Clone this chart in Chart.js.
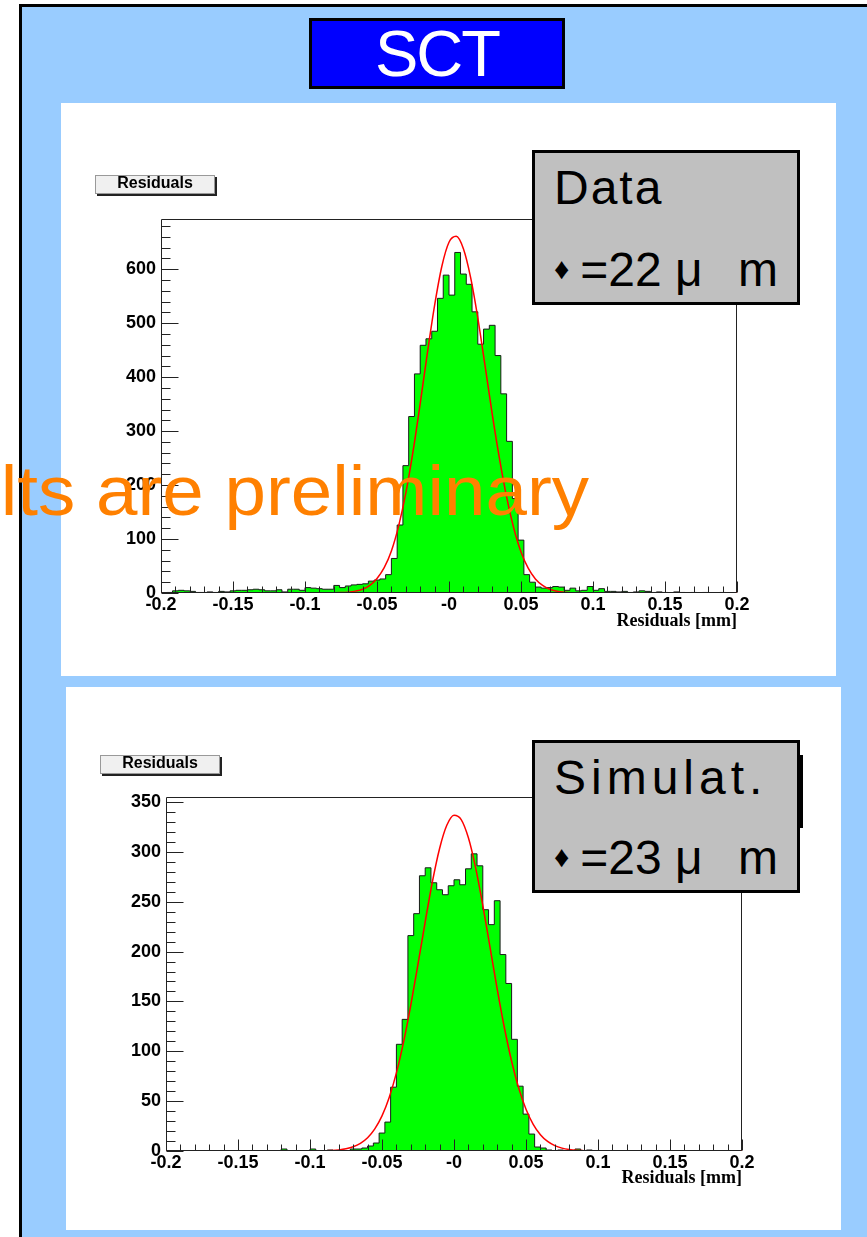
<!DOCTYPE html>
<html lang="en">
<head>
<meta charset="UTF-8">
<title>SCT residuals</title>
<script src="https://cdn.jsdelivr.net/npm/chart.js"></script>
<style>
  body { margin:0; width:867px; height:1237px; position:relative; overflow:hidden; background:#fff;
         font-family:"Liberation Sans", Arial, sans-serif; }
  .slide { position:absolute; left:19px; top:4px; width:900px; height:1300px; background:#99ccff;
           border:3px solid #000; box-sizing:border-box; }
  .sct { position:absolute; left:309px; top:18px; width:256px; height:71px; background:#0000ff;
         border:3px solid #000; box-sizing:border-box; color:#fff; font-size:65px; line-height:65px;
         text-align:center; letter-spacing:-2px; }
  .panel { position:absolute; background:#fff; }
  .panel canvas { position:absolute; left:0; top:0; }
  .htitle { position:absolute; width:120px; height:19px; box-sizing:border-box; border:1px solid #999;
            background:#f0f0f0; box-shadow:2px 2px 0 #222; font-weight:bold; font-size:16px;
            line-height:14px; text-align:center; z-index:2; }
  .legend { position:absolute; left:532px; width:268px; box-sizing:border-box; border:3px solid #000;
            background:#c0c0c0; z-index:2; font-size:48px; }
  .legend div { position:absolute; left:19px; line-height:48px; white-space:nowrap; }
  .diamond { font-size:30px; position:relative; top:-7px; margin-right:11px; }
  .unit { margin-left:22px; }
  .bar { position:absolute; left:799px; top:755px; width:4px; height:73px; background:#000; z-index:2; }
  .prelim { position:absolute; right:278px; top:455px; font-size:71px; line-height:71px; color:#ff8000;
            white-space:nowrap; z-index:3; transform:scaleX(1.05); transform-origin:right center; }
</style>
</head>
<body>
<div class="slide"></div>
<div class="sct">SCT</div>

<div class="panel" style="left:61px;top:103px;width:775px;height:573px;">
  <canvas id="dataChart" width="775" height="573"></canvas>
</div>
<div class="panel" style="left:66px;top:687px;width:775px;height:543px;">
  <canvas id="simChart" width="775" height="543"></canvas>
</div>

<div class="htitle" style="left:95px;top:175px;">Residuals</div>
<div class="htitle" style="left:100px;top:755px;">Residuals</div>

<div class="legend" style="top:150px;height:155px;">
  <div style="top:11px;letter-spacing:2px;">Data</div>
  <div style="top:93px;"><span class="diamond">♦</span>=22 μ <span class="unit">m</span></div>
</div>
<div class="legend" style="top:740px;height:153px;">
  <div style="top:11px;letter-spacing:5px;">Simulat.</div>
  <div style="top:91px;"><span class="diamond">♦</span>=23 μ <span class="unit">m</span></div>
</div>
<div class="bar"></div>

<div class="prelim">Results are preliminary</div>

<script>
    Chart.defaults.font.family = '"Liberation Sans", Arial, sans-serif';

    // 100 bins of 0.004 mm between -0.2 and 0.2
    const binCount = 100;
    const xLow = -0.2, binWidth = 0.004;
    const binEdges = Array.from({length: binCount}, (_, i) => +(xLow + i * binWidth).toFixed(3));

    // counts per bin
    const dataCounts = [
        0, 1, 4, 5, 4, 3, 1, 1, 2, 1,
        3, 2, 4, 5, 5, 6, 7, 6, 4, 4,
        6, 2, 7, 7, 5, 10, 9, 8, 7, 7,
        14, 10, 13, 15, 16, 17, 22, 24, 26, 34,
        64, 126, 236, 327, 406, 459, 471, 485, 546, 589,
        552, 631, 591, 572, 521, 461, 489, 496, 440, 369,
        281, 175, 98, 34, 20, 11, 9, 10, 12, 11,
        5, 9, 4, 5, 12, 5, 8, 3, 3, 2,
        3, 1, 2, 4, 3, 1, 2, 1, 0, 2,
        1, 0, 1, 0, 1, 0, 0, 1, 0, 0
    ];
    const simCounts = [
        0, 0, 0, 0, 0, 0, 0, 0, 0, 0,
        0, 0, 0, 0, 0, 0, 0, 0, 0, 0,
        2, 0, 0, 0, 0, 2, 0, 0, 1, 0,
        1, 0, 2, 2, 3, 5, 8, 18, 29, 64,
        107, 132, 216, 238, 276, 284, 269, 262, 257, 266,
        272, 267, 283, 298, 286, 242, 227, 251, 197, 168,
        112, 65, 37, 17, 4, 3, 1, 0, 1, 0,
        0, 2, 0, 1, 0, 0, 0, 0, 0, 0,
        0, 0, 0, 0, 0, 0, 0, 0, 0, 0,
        0, 0, 0, 0, 0, 0, 0, 0, 0, 0
    ];

    // red fit curves
    const fitX = [-0.2, -0.1, -0.095, -0.09, -0.085, -0.08, -0.075, -0.07, -0.065, -0.06, -0.055,
        -0.05, -0.045, -0.04, -0.035, -0.03, -0.025, -0.02, -0.015, -0.01, -0.005, 0,
        0.005, 0.01, 0.015, 0.02, 0.025, 0.03, 0.035, 0.04, 0.045, 0.05, 0.055, 0.06,
        0.065, 0.07, 0.075, 0.08, 0.085, 0.09, 0.095, 0.1, 0.2];
    const dataFit = [0, 0, 0, 0, 0.1, 0.3, 0.7, 1.6, 3.5, 7, 14,
        27, 47, 78, 124, 185, 262, 351, 445, 533, 605, 650,
        661, 638, 585, 510, 422, 332, 250, 178, 120, 76, 46, 26,
        14, 7, 3.4, 1.5, 0.6, 0.2, 0.1, 0, 0];
    const simFit = [0, 0.05, 0.1, 0.3, 0.55, 1.1, 2.2, 4.2, 7.7, 13.3, 22.2,
        35.2, 53.7, 78.3, 109.4, 146.3, 187.4, 229.8, 270, 303.4, 326.6, 336.7,
        332.4, 314.1, 284.2, 246.3, 204.4, 162.4, 123.6, 90, 62.8, 41.9, 26.8, 16.4,
        9.6, 5.4, 2.9, 1.5, 0.7, 0.35, 0.16, 0.07, 0];

    const xTickValues = [-0.2, -0.15, -0.1, -0.05, 0, 0.05, 0.1, 0.15, 0.2];
    const xTickLabels = ['-0.2', '-0.15', '-0.1', '-0.05', '-0', '0.05', '0.1', '0.15', '0.2'];
    const dataYTicks = [0, 100, 200, 300, 400, 500, 600];
    const simYTicks = [0, 50, 100, 150, 200, 250, 300, 350];

    // ROOT style frame with ticks pointing inwards
    const rootAxes = {
        id: 'rootAxes',
        afterDatasetsDraw(chart, args, o) {
            const {ctx, chartArea: a, scales: {x, y}} = chart;
            const L = Math.round(a.left) + 0.5, R = Math.round(a.right) - 0.5;
            const T = Math.round(a.top) + 0.5, B = Math.round(a.bottom) - 0.5;
            ctx.save();
            ctx.strokeStyle = '#222';
            ctx.lineWidth = 1;
            ctx.beginPath();
            ctx.rect(L, T, R - L, B - T);
            for (let k = -20; k <= 20; k++) {
                const px = Math.round(x.getPixelForValue(k / 100)) + 0.5;
                const len = k % 5 === 0 ? 11 : 6;
                ctx.moveTo(px, B);
                ctx.lineTo(px, B - len);
            }
            for (let v = 0; v <= y.max; v += o.minor) {
                const py = Math.round(y.getPixelForValue(v)) + 0.5;
                const len = v % o.major === 0 ? 17 : 9;
                ctx.moveTo(L, py);
                ctx.lineTo(L + len, py);
            }
            ctx.stroke();
            ctx.restore();
        }
    };

    function makeHist(id, counts, fit, yMax, yTicks, major, minor, pad, xHeight) {
        const hist = binEdges.map((x, i) => ({x: x, y: counts[i]}));
        hist.push({x: 0.2, y: 0});
        return new Chart(document.getElementById(id), {
            type: 'line',
            data: {
                datasets: [
                    {
                        data: fitX.map((x, i) => ({x: x, y: fit[i]})),
                        borderColor: '#ff0000',
                        borderWidth: 1.5,
                        pointRadius: 0,
                        cubicInterpolationMode: 'monotone',
                        fill: false,
                        order: 0
                    },
                    {
                        data: hist,
                        stepped: 'before',
                        borderColor: '#1a1a1a',
                        borderWidth: 1,
                        backgroundColor: '#00ff00',
                        fill: 'origin',
                        pointRadius: 0,
                        order: 1
                    }
                ]
            },
            options: {
                responsive: false,
                animation: false,
                devicePixelRatio: 1,
                layout: {padding: pad},
                plugins: {
                    legend: {display: false},
                    tooltip: {enabled: false},
                    rootAxes: {major: major, minor: minor}
                },
                scales: {
                    x: {
                        type: 'linear',
                        min: -0.2,
                        max: 0.2,
                        afterBuildTicks: s => { s.ticks = xTickValues.map(v => ({value: v})); },
                        afterFit: s => { s.height = xHeight; },
                        grid: {display: false, drawTicks: false},
                        border: {display: false},
                        ticks: {
                            autoSkip: false,
                            maxRotation: 0,
                            padding: 1,
                            color: '#000',
                            font: {size: 18, weight: 'bold'},
                            callback: (v, i) => xTickLabels[i]
                        },
                        title: {
                            display: true,
                            text: 'Residuals [mm]',
                            align: 'end',
                            color: '#000',
                            padding: 0,
                            font: {family: '"Liberation Serif", "Times New Roman", serif', size: 18, weight: 'bold'}
                        }
                    },
                    y: {
                        min: 0,
                        max: yMax,
                        afterBuildTicks: s => { s.ticks = yTicks.map(v => ({value: v})); },
                        afterFit: s => { s.width = 100; },
                        grid: {display: false, drawTicks: false},
                        border: {display: false},
                        ticks: {
                            padding: 5,
                            color: '#000',
                            font: {size: 18, weight: 'bold'},
                            callback: v => String(v)
                        }
                    }
                }
            },
            plugins: [rootAxes]
        });
    }

    makeHist('dataChart', dataCounts, dataFit, 693, dataYTicks, 100, 20,
        {top: 116, right: 99, bottom: 44, left: 0}, 39);
    makeHist('simChart', simCounts, simFit, 355, simYTicks, 50, 10,
        {top: 110, right: 99, bottom: 41, left: 0}, 38);
</script>
</body>
</html>
